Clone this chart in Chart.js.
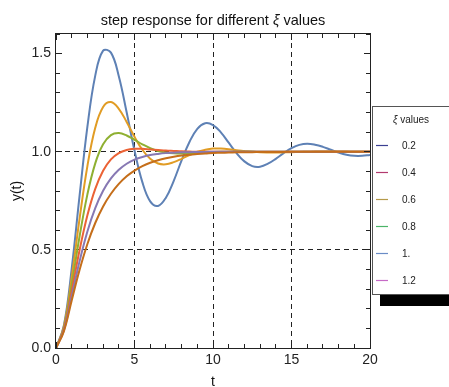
<!DOCTYPE html>
<html><head><meta charset="utf-8">
<script src="https://cdn.jsdelivr.net/npm/chart.js@4.4.1/dist/chart.umd.min.js"></script>
<style>html,body{margin:0;padding:0;background:#fff;}canvas{display:block;}</style>
</head><body>
<canvas id="c" width="449" height="387"></canvas>
<script>
// ---- data ----
const timeValues = [0,0.5,1,1.5,2,2.5,3,3.5,4,4.5,5,5.5,6,6.5,7,7.5,8,8.5,9,9.5,10,10.5,11,11.5,12,12.5,13,13.5,14,14.5,15,15.5,16,16.5,17,17.5,18,18.5,19,19.5,20];
const xi02 = [0,0.115,0.405,0.775,1.128,1.388,1.515,1.505,1.385,1.201,1.006,0.845,0.747,0.724,0.766,0.852,0.956,1.050,1.117,1.145,1.136,1.099,1.046,0.993,0.951,0.927,0.924,0.939,0.964,0.993,1.018,1.035,1.041,1.036,1.025,1.010,0.996,0.985,0.979,0.979,0.984];
const xi04 = [0,0.108,0.360,0.658,0.927,1.122,1.228,1.253,1.219,1.152,1.076,1.010,0.964,0.940,0.936,0.947,0.964,0.983,1.000,1.010,1.016,1.016,1.013,1.008,1.004,1.000,0.997,0.996,0.996,0.997,0.998,0.999,1.000,1.001,1.001,1.001,1.001,1.001,1.000,1.000,1.000];
const xi06 = [0,0.101,0.322,0.568,0.783,0.941,1.038,1.085,1.095,1.083,1.061,1.038,1.018,1.004,0.996,0.992,0.991,0.992,0.995,0.997,0.999,1.000,1.000,1.001,1.001,1.001,1.000,1.000,1.000,1.000,1.000,1.000,1.000,1.000,1.000,1.000,1.000,1.000,1.000,1.000,1.000];
const xi08 = [0,0.096,0.291,0.498,0.676,0.811,0.903,0.961,0.993,1.009,1.015,1.015,1.012,1.009,1.006,1.004,1.002,1.001,1.000,1.000,1.000,1.000,1.000,1.000,1.000,1.000,1.000,1.000,1.000,1.000,1.000,1.000,1.000,1.000,1.000,1.000,1.000,1.000,1.000,1.000,1.000];
const xi10 = [0,0.090,0.264,0.442,0.594,0.713,0.801,0.864,0.908,0.939,0.960,0.973,0.983,0.989,0.993,0.995,0.997,0.998,0.999,0.999,1.000,1.000,1.000,1.000,1.000,1.000,1.000,1.000,1.000,1.000,1.000,1.000,1.000,1.000,1.000,1.000,1.000,1.000,1.000,1.000,1.000];
const xi12 = [0,0.085,0.242,0.397,0.530,0.637,0.721,0.786,0.836,0.875,0.904,0.927,0.944,0.957,0.967,0.975,0.981,0.985,0.989,0.991,0.994,0.995,0.996,0.997,0.998,0.998,0.999,0.999,0.999,0.999,1.000,1.000,1.000,1.000,1.000,1.000,1.000,1.000,1.000,1.000,1.000];
const seriesValues = [xi02, xi04, xi06, xi08, xi10, xi12];
const seriesLabels = ['0.2','0.4','0.6','0.8','1.','1.2'];
const lineColors = ['#5e81b5','#e19c24','#8fb032','#eb6235','#8778b3','#c56e1a'];
const legendColors = ['#3b3f92','#b23a6e','#b59a4a','#4bb468','#6a8cc6','#c66ac6'];
const xMajorTicks = [0,5,10,15,20];
const yMajorTicks = [0,0.5,1.0,1.5];
const xMinorTicks = [1,2,3,4,6,7,8,9,11,12,13,14,16,17,18,19];
const yMinorTicks = [0.1,0.2,0.3,0.4,0.6,0.7,0.8,0.9,1.1,1.2,1.3,1.4,1.6];
const xGridLines = [5,10,15];
const yGridLines = [0.5,1.0];
const titleParts = ['step response for different ', 'ξ', ' values'];
const xAxisTitle = 't';
const yAxisTitle = 'y(t)';
const legendTitleParts = ['ξ', ' values'];

const FONT = '"Liberation Sans", Arial, Helvetica, sans-serif';

const decor = {
  id: 'decor',
  beforeDatasetsDraw(chart) {
    const {ctx, chartArea: a, scales: {x, y}} = chart;
    ctx.save();
    ctx.strokeStyle = '#222';
    ctx.lineWidth = 1;
    ctx.setLineDash([5, 4]);
    xGridLines.forEach(v => {
      const px = Math.floor(x.getPixelForValue(v)) + 0.5;
      ctx.beginPath(); ctx.moveTo(px, a.top); ctx.lineTo(px, a.bottom); ctx.stroke();
    });
    yGridLines.forEach(v => {
      const py = Math.floor(y.getPixelForValue(v)) + 0.5;
      ctx.beginPath(); ctx.moveTo(a.left, py); ctx.lineTo(a.right, py); ctx.stroke();
    });
    ctx.restore();
  },
  afterDatasetsDraw(chart) {
    const {ctx, chartArea: a, scales: {x, y}} = chart;
    ctx.save();
    ctx.strokeStyle = '#222';
    ctx.lineWidth = 1;
    ctx.setLineDash([]);
    ctx.strokeRect(a.left - 0.5, a.top - 0.5, a.right - a.left + 1, a.bottom - a.top + 1);
    const tick = (vals, len) => {
      vals.forEach(v => {
        const px = Math.floor(x.getPixelForValue(v)) + 0.5;
        ctx.beginPath(); ctx.moveTo(px, a.bottom); ctx.lineTo(px, a.bottom - len); ctx.stroke();
        ctx.beginPath(); ctx.moveTo(px, a.top); ctx.lineTo(px, a.top + len); ctx.stroke();
      });
    };
    const ytick = (vals, len) => {
      vals.forEach(v => {
        const py = Math.floor(y.getPixelForValue(v)) + 0.5;
        ctx.beginPath(); ctx.moveTo(a.left, py); ctx.lineTo(a.left + len, py); ctx.stroke();
        ctx.beginPath(); ctx.moveTo(a.right, py); ctx.lineTo(a.right - len, py); ctx.stroke();
      });
    };
    tick(xMajorTicks, 6); tick(xMinorTicks, 4);
    ytick(yMajorTicks, 6); ytick(yMinorTicks, 4);
    ctx.restore();
  },
  afterDraw(chart) {
    const {ctx, chartArea: a} = chart;
    ctx.save();
    // title
    ctx.fillStyle = '#111';
    ctx.textBaseline = 'alphabetic';
    const fN = '14.5px ' + FONT, fI = 'italic 14.5px ' + FONT;
    const fonts = [fN, fI, fN];
    let widths = titleParts.map((p, i) => { ctx.font = fonts[i]; return ctx.measureText(p).width; });
    let total = widths.reduce((s, w) => s + w, 0);
    let cx = (a.left + a.right) / 2 - total / 2;
    titleParts.forEach((p, i) => { ctx.font = fonts[i]; ctx.textAlign = 'left'; ctx.fillText(p, cx, 25); cx += widths[i]; });
    // axis titles
    ctx.font = '14px ' + FONT;
    ctx.textAlign = 'center';
    ctx.fillText(xAxisTitle, (a.left + a.right) / 2, 386);
    ctx.save();
    ctx.translate(17, (a.top + a.bottom) / 2);
    ctx.rotate(-Math.PI / 2);
    ctx.textBaseline = 'middle';
    ctx.fillText(yAxisTitle, 0, 0);
    ctx.restore();
    // legend with shadow
    ctx.fillStyle = '#000';
    ctx.fillRect(380, 117, 90, 189);
    ctx.fillStyle = '#fff';
    ctx.fillRect(372, 106, 90, 189);
    ctx.strokeStyle = '#555';
    ctx.lineWidth = 1;
    ctx.strokeRect(372.5, 106.5, 90, 188);
    ctx.fillStyle = '#222';
    ctx.textBaseline = 'middle';
    const lf = ['italic 10px ' + FONT, '10px ' + FONT];
    const lw = legendTitleParts.map((p, i) => { ctx.font = lf[i]; return ctx.measureText(p).width; });
    let lx = 411 - (lw[0] + lw[1]) / 2;
    legendTitleParts.forEach((p, i) => { ctx.font = lf[i]; ctx.textAlign = 'left'; ctx.fillText(p, lx, 120); lx += lw[i]; });
    ctx.font = '10px ' + FONT;
    seriesLabels.forEach((lab, i) => {
      const yy = 145 + 27 * i;
      ctx.strokeStyle = legendColors[i];
      ctx.lineWidth = 1.2;
      ctx.beginPath(); ctx.moveTo(376, yy + 0.5); ctx.lineTo(388, yy + 0.5); ctx.stroke();
      ctx.fillStyle = '#222';
      ctx.textAlign = 'left';
      ctx.fillText(lab, 402, yy + 1);
    });
    ctx.restore();
  }
};

const datasets = seriesValues.map((vals, i) => ({
  label: seriesLabels[i],
  data: timeValues.map((t, k) => ({x: t, y: vals[k]})),
  borderColor: lineColors[i],
  backgroundColor: lineColors[i],
  borderWidth: 2,
  pointRadius: 0,
  tension: 0.4,
  fill: false,
  order: seriesValues.length - 1 - i
}));

new Chart(document.getElementById('c'), {
  type: 'line',
  data: { datasets },
  options: {
    responsive: false,
    animation: false,
    devicePixelRatio: 1,
    layout: { padding: { top: 34, right: 79, left: 0, bottom: 0 } },
    plugins: { legend: { display: false }, title: { display: false }, tooltip: { enabled: false } },
    scales: {
      x: {
        type: 'linear', min: 0, max: 20,
        grid: { display: false, drawTicks: false },
        border: { display: false },
        ticks: { padding: 4, color: '#222', font: { family: FONT, size: 14 }, callback: v => String(v) },
        afterBuildTicks: s => { s.ticks = xMajorTicks.map(v => ({ value: v })); },
        afterFit: s => { s.height = 39; }
      },
      y: {
        type: 'linear', min: 0, max: 1.6,
        grid: { display: false, drawTicks: false },
        border: { display: false },
        ticks: { padding: 5, color: '#222', font: { family: FONT, size: 14 }, callback: v => Number(v).toFixed(1) },
        afterBuildTicks: s => { s.ticks = yMajorTicks.map(v => ({ value: v })); },
        afterFit: s => { s.width = 56; }
      }
    }
  },
  plugins: [decor]
});
</script>
</body></html>
